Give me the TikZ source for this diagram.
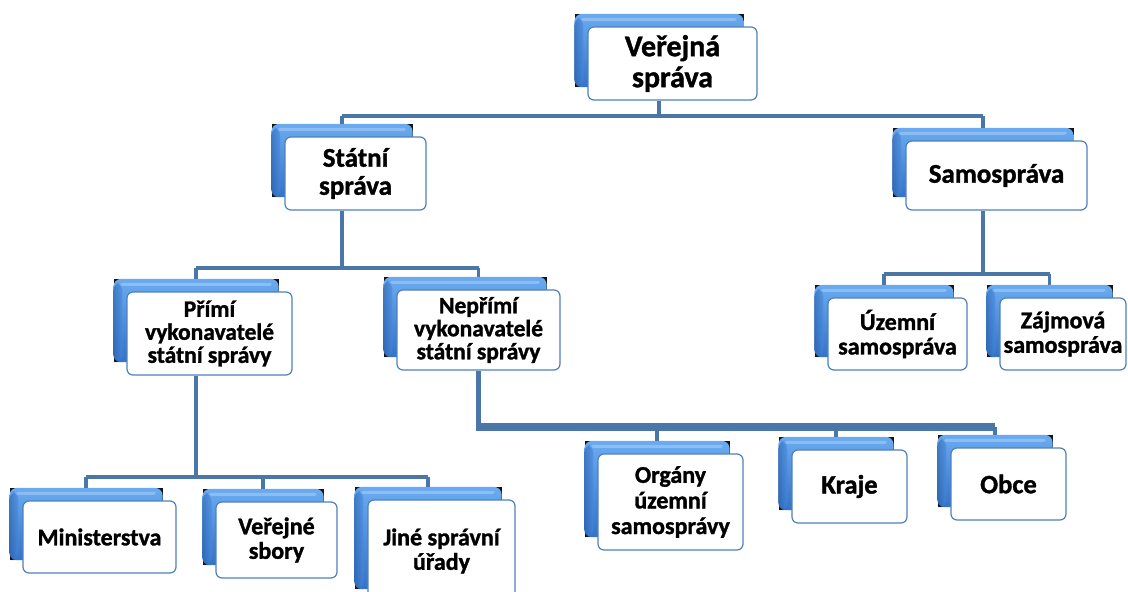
\documentclass[tikz,border=0pt]{standalone}
\usepackage{fontspec}
\setmainfont{Carlito}[BoldFeatures={FakeBold=1.3}]
\definecolor{connc}{HTML}{4A76A8}
\definecolor{cardline}{HTML}{4F81BD}
\definecolor{tabtop}{HTML}{6AABF0}
\definecolor{tabmid}{HTML}{4A8CE0}
\definecolor{tabbot}{HTML}{3573C8}
\definecolor{tabedge}{HTML}{2A5EA8}
\tikzset{
  tabbox/.style={draw=none, fill=black!92, inner sep=0pt},
  card/.style={draw=cardline, line width=1.2pt, fill=white, rounded corners=6pt,
    inner sep=0pt, align=center, font=\bfseries\fontsize{24}{24.5}\selectfont},
  topfont/.style={font=\bfseries\fontsize{30}{31}\selectfont},
  midfont/.style={font=\bfseries\fontsize{27}{28}\selectfont},
  bigfont/.style={font=\bfseries\fontsize{26.5}{27}\selectfont},
  tightfont/.style={font=\bfseries\fontsize{23.5}{23}\selectfont},
  orgfont/.style={font=\bfseries\fontsize{24}{25.6}\selectfont},
  connline/.style={draw=connc, line width=4.5pt, rounded corners=1.5pt},
  dropline/.style={draw=connc, line width=3.5pt},
  thickline/.style={draw=connc, line width=8pt, rounded corners=2pt},
}
% name, x1, y1, x2, y2, extra style, text
\newcommand\mkbox[7]{%
  \node[tabbox, minimum width={(#4-#2)*1pt}, minimum height={(#5-#3)*1pt}]
    (#1b) at ({(#2+#4)/2-13.5},{(#3+#5)/2-13}) {};
  \shade[top color=tabtop, middle color=tabmid, bottom color=tabbot, rounded corners=8pt]
    (#1b.south west) rectangle (#1b.north east);
  \shade[left color=tabedge, right color=tabmid, opacity=0.6, rounded corners=8pt]
    (#1b.south west) rectangle ([xshift=9pt,yshift=-4pt]#1b.north west);
  \fill[white, opacity=0.25, rounded corners=2pt]
    ([xshift=7pt,yshift=-4pt]#1b.north west) rectangle ([xshift=-7pt,yshift=-7pt]#1b.north east);
  \node[card, #6, minimum width={(#4-#2)*1pt}, minimum height={(#5-#3)*1pt}]
    (#1) at ({(#2+#4)/2},{(#3+#5)/2}) {#7};
}
\begin{document}
\begin{tikzpicture}[x=1pt, y=-1pt]
\useasboundingbox (0,0) rectangle (1128,592);
\fill[white] (0,0) rectangle (1128,592);

\mkbox{ver}{588}{27}{757}{100}{topfont}{Veřejná\\správa}
\mkbox{stat}{285}{137}{426}{210}{midfont}{Státní\\správa}
\mkbox{samo}{906}{141}{1087}{210}{midfont}{Samospráva}
\mkbox{primi}{127}{292}{292}{375}{tightfont}{Přímí\\vykonavatelé\\státní správy}
\mkbox{neprimi}{397}{290}{560}{370}{tightfont}{Nepřímí\\vykonavatelé\\státní správy}
\mkbox{uzemni}{828}{298}{967}{370}{}{Územní\\samospráva}
\mkbox{zajmova}{1000}{298}{1126}{370}{}{Zájmová\\samospráva}
\mkbox{organy}{598}{454}{743}{550}{orgfont}{Orgány\\územní\\samosprávy}
\mkbox{kraje}{792}{450}{907}{523}{bigfont}{Kraje}
\mkbox{obce}{951}{448}{1066}{520}{bigfont}{Obce}
\mkbox{mini}{23}{501}{176}{573}{}{Ministerstva}
\mkbox{sbory}{216}{502}{337}{578}{}{Veřejné\\sbory}
\mkbox{jine}{368}{500}{515}{602}{}{Jiné správní\\úřady}

\coordinate (busA) at (0,116);
\coordinate (busB) at (0,268);
\coordinate (busC) at (0,274);
\coordinate (busD) at (0,477);
\coordinate (busE) at (0,427);

% level 1
\draw[connline] (verb.center |- ver.south) -- (verb.center |- busA);
\draw[connline] (statb.center |- busA) -- (samob.center |- busA);
\draw[dropline] (statb.north) -- (statb.center |- busA);
\draw[dropline] (samob.north) -- (samob.center |- busA);

% under Statni sprava
\draw[connline] (statb.center |- stat.south) -- (statb.center |- busB);
\draw[connline] (primib.center |- busB) -- (neprimi.center |- busB);
\draw[dropline] (primib.north) -- (primib.center |- busB);
\draw[dropline] (neprimi.center |- neprimib.north) -- (neprimi.center |- busB);

% under Samosprava
\draw[connline] (samob.center |- samo.south) -- (samob.center |- busC);
\draw[connline] (uzemnib.center |- busC) -- (zajmovab.center |- busC);
\draw[dropline] (uzemnib.north) -- (uzemnib.center |- busC);
\draw[dropline] (zajmovab.north) -- (zajmovab.center |- busC);

% under Primi
\draw[connline] (primib.center |- primi.south) -- (primib.center |- busD);
\draw[connline] (minib.center |- busD) -- (jineb.center |- busD);
\draw[dropline] (minib.north) -- (minib.center |- busD);
\draw[dropline] (sboryb.north) -- (sboryb.center |- busD);
\draw[dropline] (jineb.north) -- (jineb.center |- busD);

% under Neprimi
\draw[draw=connc, line width=5.5pt] (neprimi.center |- neprimi.south) -- (neprimi.center |- busE);
\draw[thickline] ([xshift=-2.75pt]neprimi.center |- busE) -- (obceb.center |- busE);
\draw[dropline] (organyb.north) -- (organyb.center |- busE);
\draw[dropline] (krajeb.north) -- (krajeb.center |- busE);
\draw[dropline] (obceb.north) -- (obceb.center |- busE);
\end{tikzpicture}
\end{document}
